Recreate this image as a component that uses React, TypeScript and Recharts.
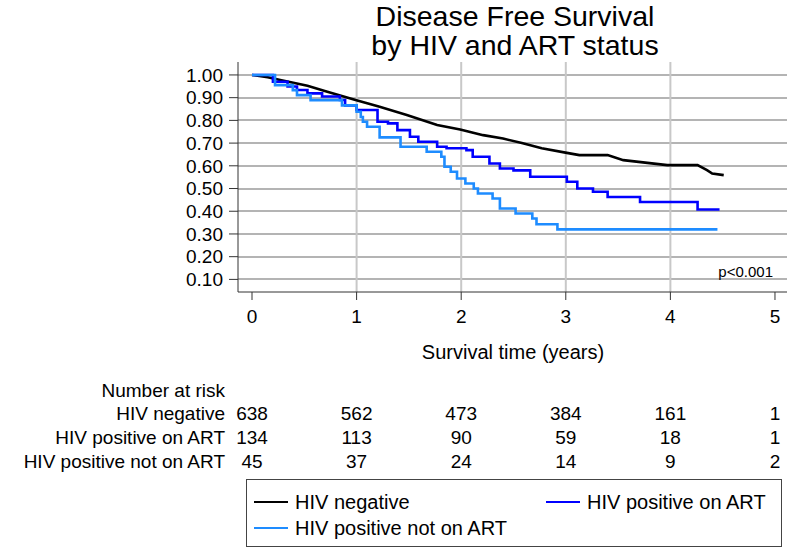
import React from "react";
import { LineChart, Line, XAxis, YAxis, CartesianGrid } from "recharts";

// Kaplan-Meier estimates (time in years, survival)
const negTime = [0, 0.15, 0.27, 0.53, 0.72, 0.99, 1.22, 1.48, 1.77, 1.99, 2.21, 2.40, 2.58, 2.77, 3.01, 3.13, 3.40, 3.55, 3.78, 3.97, 4.26, 4.35, 4.40, 4.51];
const negSurv = [1, 0.99, 0.978, 0.952, 0.926, 0.89, 0.86, 0.824, 0.78, 0.76, 0.735, 0.72, 0.70, 0.677, 0.657, 0.647, 0.647, 0.625, 0.613, 0.603, 0.603, 0.581, 0.566, 0.559];

const onArtTime = [0, 0.20, 0.34, 0.43, 0.53, 0.67, 0.84, 0.89, 1.00, 1.20, 1.30, 1.39, 1.51, 1.59, 1.77, 1.86, 2.05, 2.11, 2.27, 2.37, 2.50, 2.66, 3.01, 3.11, 3.26, 3.40, 3.71, 4.26, 4.47];
const onArtSurv = [1, 0.97, 0.949, 0.934, 0.919, 0.905, 0.89, 0.866, 0.846, 0.794, 0.787, 0.757, 0.728, 0.706, 0.684, 0.677, 0.669, 0.64, 0.61, 0.588, 0.58, 0.552, 0.53, 0.50, 0.486, 0.463, 0.441, 0.408, 0.408];

const notArtTime = [0, 0.22, 0.39, 0.43, 0.56, 0.86, 1.00, 1.04, 1.06, 1.10, 1.22, 1.42, 1.67, 1.81, 1.84, 1.90, 1.96, 2.04, 2.12, 2.16, 2.30, 2.37, 2.52, 2.68, 2.72, 2.92, 4.45];
const notArtSurv = [1, 0.955, 0.933, 0.911, 0.889, 0.866, 0.838, 0.815, 0.794, 0.772, 0.725, 0.684, 0.662, 0.64, 0.596, 0.574, 0.544, 0.522, 0.50, 0.478, 0.456, 0.412, 0.39, 0.368, 0.343, 0.32, 0.32];

const xTicks = [0, 1, 2, 3, 4, 5];
const yTicks = [0.1, 0.2, 0.3, 0.4, 0.5, 0.6, 0.7, 0.8, 0.9, 1.0];
const gridX = [1, 2, 3, 4];

const riskLabels = ["HIV negative", "HIV positive on ART", "HIV positive not on ART"];
const riskNeg = [638, 562, 473, 384, 161, 1];
const riskOnArt = [134, 113, 90, 59, 18, 1];
const riskNotArt = [45, 37, 24, 14, 9, 2];

const series = [
  { name: "HIV negative", color: "#000000", time: negTime, surv: negSurv, type: "linear" },
  { name: "HIV positive on ART", color: "#0000FF", time: onArtTime, surv: onArtSurv, type: "stepAfter" },
  { name: "HIV positive not on ART", color: "#1E8CFF", time: notArtTime, surv: notArtSurv, type: "stepAfter" },
];

const W = 790, H = 551;
const FONT = "'Liberation Sans', Arial, Helvetica, sans-serif";
const X_DOMAIN: [number, number] = [-0.134, 5.115];
const Y_DOMAIN: [number, number] = [0.0445, 1.057];
const PLOT_LEFT = 238, PLOT_RIGHT = 787, PLOT_TOP = 62, PLOT_BOTTOM = 292;
const GRID = "#c8c8c8";
const H_GRID = "#b4b4b4";
const xPx = (t: number) => PLOT_LEFT + ((t - X_DOMAIN[0]) / (X_DOMAIN[1] - X_DOMAIN[0])) * (PLOT_RIGHT - PLOT_LEFT);
const yPx = (v: number) => PLOT_BOTTOM - ((v - Y_DOMAIN[0]) / (Y_DOMAIN[1] - Y_DOMAIN[0])) * (PLOT_BOTTOM - PLOT_TOP);

const toRows = (time: number[], surv: number[]) => time.map((t, i) => ({ t, s: surv[i] }));

function LegendBox() {
  const item = (s: typeof series[number], left: number, top: number) => (
    <div key={s.name} style={{ position: "absolute", left, top, display: "flex", alignItems: "center" }}>
      <div style={{ width: 34, height: 2.5, background: s.color, marginRight: 7 }} />
      <span style={{ fontSize: 20, color: "#000", whiteSpace: "nowrap", lineHeight: "22px" }}>{s.name}</span>
    </div>
  );
  return (
    <div style={{ position: "absolute", left: 246, top: 479, width: 536, height: 68, border: "1px solid #444", boxSizing: "border-box" }}>
      {item(series[0], 7, 11)}
      {item(series[1], 299, 11)}
      {item(series[2], 7, 37)}
    </div>
  );
}

export default function App() {
  const riskRows = [riskNeg, riskOnArt, riskNotArt];
  return (
    <div style={{ position: "absolute", left: 0, top: 0, width: W, height: H, background: "#fff", fontFamily: FONT }}>
      <LineChart width={W} height={H} margin={{ top: PLOT_TOP, right: W - PLOT_RIGHT, left: PLOT_LEFT - 60, bottom: H - PLOT_BOTTOM - 30 }}>
        <CartesianGrid horizontal={true} vertical={false}
          horizontalPoints={yTicks.map(v => Math.round(yPx(v)))}
          stroke={H_GRID} strokeWidth={2}
        />
        <CartesianGrid horizontal={false} vertical={true}
          verticalPoints={gridX.map(xPx)}
          stroke={GRID} strokeWidth={2}
        />
        <XAxis
          type="number" dataKey="t" domain={X_DOMAIN} ticks={xTicks} interval={0} allowDataOverflow height={30}
          tick={{ fontSize: 19, fill: "#000", fontFamily: FONT }} tickSize={8} tickMargin={10}
          axisLine={{ stroke: "#333" }} tickLine={{ stroke: "#333" }}
        />
        <YAxis
          type="number" dataKey="s" domain={Y_DOMAIN} ticks={yTicks} interval={0} allowDataOverflow width={60}
          tickFormatter={(v: number) => v.toFixed(2)}
          tick={{ fontSize: 19, fill: "#000", fontFamily: FONT }} tickSize={9} tickMargin={6}
          axisLine={{ stroke: "#333" }} tickLine={{ stroke: "#333" }}
        />
        {series.map(s => (
          <Line key={s.name} data={toRows(s.time, s.surv)} dataKey="s" type={s.type as any}
            stroke={s.color} strokeWidth={2.6} dot={false} activeDot={false} isAnimationActive={false} />
        ))}
      </LineChart>

      <svg width={W} height={H} style={{ position: "absolute", left: 0, top: 0, pointerEvents: "none" }} fontFamily={FONT}>
        <text x={515} y={26} fontSize={28.5} textAnchor="middle" fill="#000">Disease Free Survival</text>
        <text x={515} y={55} fontSize={28.5} textAnchor="middle" fill="#000">by HIV and ART status</text>
        <text x={513} y={359} fontSize={20} textAnchor="middle" fill="#000">Survival time (years)</text>
        <text x={773} y={277} fontSize={15} textAnchor="end" fill="#000">p&lt;0.001</text>
        <text x={225} y={397} fontSize={19} textAnchor="end" fill="#000">Number at risk</text>
        {riskRows.map((row, r) => (
          <g key={r}>
            <text x={225} y={420 + r * 24} fontSize={19} textAnchor="end" fill="#000">{riskLabels[r]}</text>
            {row.map((n, i) => (
              <text key={i} x={xPx(xTicks[i])} y={420 + r * 24} fontSize={19} textAnchor="middle" fill="#000">{n}</text>
            ))}
          </g>
        ))}
      </svg>
      <LegendBox />
    </div>
  );
}
